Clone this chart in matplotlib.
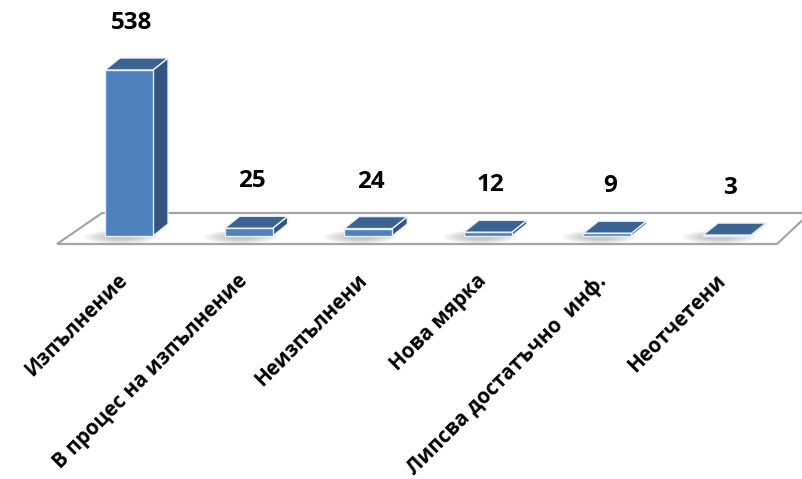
import matplotlib
matplotlib.use("Agg")
import matplotlib.pyplot as plt
from matplotlib.patches import Polygon, Ellipse
import numpy as np

categories = ["Изпълнение", "В процес на изпълнение", "Неизпълнени",
              "Нова мярка", "Липсва достатъчно  инф.", "Неотчетени"]
values = [538, 25, 24, 12, 9, 3]

# layout (pixels)
W, H = 803, 479
X0_PX = 129.0      # centre of first bar
STEP_PX = 119.6    # distance between bars
ZERO_PX = 236.0    # baseline, from top
PPU = 166.0 / 538  # pixels per unit
DEPTH = (15.0, 12.0)

FRONT = "#4F81BD"
SIDE = "#33557F"
TOP = "#3C6492"
EDGE = "#E6EEF8"
FONT = ["Open Sans", "DejaVu Sans"]

fig = plt.figure(figsize=(W / 100, H / 100), dpi=100)
ax = fig.add_axes([0, 0, 1, 1])
ax.set_xlim(-X0_PX / STEP_PX, (W - X0_PX) / STEP_PX)
ax.set_ylim(-(H - ZERO_PX) / PPU, ZERO_PX / PPU)
ax.axis("off")

def px2data(px, py):
    return ((px - X0_PX) / STEP_PX, (ZERO_PX - py) / PPU)

# floor
floor_px = [(57, 244), (102, 213), (810, 213), (777, 244)]
floor = Polygon([px2data(*p) for p in floor_px], closed=True,
                facecolor="white", edgecolor="#A5A5A5", linewidth=1.6, zorder=1)
ax.add_patch(floor)

x = np.arange(len(values))
bw = 48.0 / STEP_PX
ddx = DEPTH[0] / STEP_PX
ddy = DEPTH[1] / PPU

# soft shadows
for xi in x:
    for k in range(6):
        wpx = 72 - k * 9
        hpx = 13 - k * 1.6
        e = Ellipse((xi - 8 / STEP_PX, -1 / PPU), wpx / STEP_PX, hpx / PPU,
                    facecolor="#7F7F7F", edgecolor="none", alpha=0.09, zorder=2)
        ax.add_patch(e)

ax.bar(x, values, width=bw, color=FRONT, edgecolor=EDGE, linewidth=1.0, zorder=4)
for xi, v in zip(x, values):
    l, r = xi - bw / 2, xi + bw / 2
    top = Polygon([(l, v), (r, v), (r + ddx, v + ddy), (l + ddx, v + ddy)],
                  closed=True, facecolor=TOP, edgecolor=EDGE, linewidth=1.0, zorder=3)
    side = Polygon([(r, 0), (r + ddx, ddy), (r + ddx, v + ddy), (r, v)],
                   closed=True, facecolor=SIDE, edgecolor=EDGE, linewidth=1.0, zorder=3)
    ax.add_patch(side)
    ax.add_patch(top)
    ax.annotate(str(v), (xi, v), xytext=(3, 47), textcoords="offset pixels",
                ha="center", va="center", fontsize=17.5, fontweight="bold",
                family=FONT, color="black", zorder=5)

for xi, c in zip(x, categories):
    ax.annotate(c, (xi, 0), xytext=(-12, -34), textcoords="offset pixels",
                ha="right", va="top", rotation=45, rotation_mode="anchor",
                fontsize=14.8, fontweight="bold", family=FONT, color="black")

fig.savefig("out.png", dpi=100)
